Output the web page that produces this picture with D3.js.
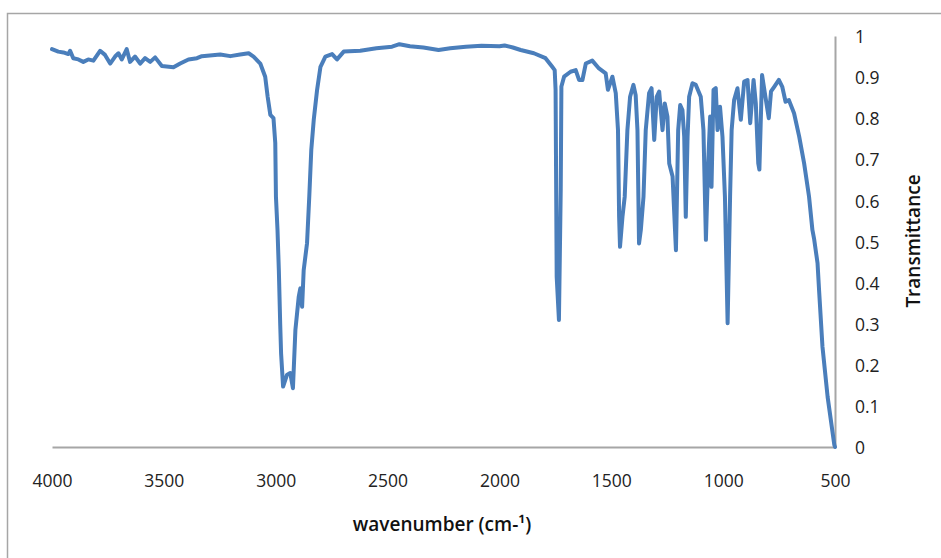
<!DOCTYPE html>
<html>
<head>
<meta charset="utf-8">
<script src="https://cdn.jsdelivr.net/npm/d3@7"></script>
<style>
  body { margin: 0; background: #fff; }
  svg { display: block; }
  .tick-label { font-family: "Open Sans", sans-serif; font-size: 17.5px; fill: #222; }
  .axis-title { font-family: "Open Sans", sans-serif; font-size: 19px; font-weight: 600; fill: #111; }
</style>
</head>
<body>
<div id="chart"></div>
<script>
// wavenumbers (cm-1) and transmittance
const wavenumbers = [
  4000, 3972, 3949, 3927, 3919, 3905, 3882, 3860, 3838, 3815, 3785, 3763, 3740, 3718, 3703,
  3688, 3666, 3651, 3629, 3606, 3584, 3561, 3539, 3509, 3457, 3427, 3390, 3352, 3330, 3248,
  3203, 3159, 3121, 3099, 3069, 3047, 3036, 3024, 3010, 3002, 2999, 2992, 2986, 2980, 2976,
  2967, 2950, 2935, 2923, 2912, 2897, 2890, 2882, 2875, 2860, 2850, 2841, 2830, 2815, 2800,
  2778, 2748, 2726, 2696, 2622, 2550, 2480, 2447, 2400, 2340, 2272, 2220, 2150, 2080, 2000,
  1977, 1940, 1905, 1846, 1794, 1764, 1753, 1749, 1744, 1734, 1726, 1723, 1711, 1682, 1659,
  1644, 1629, 1614, 1585, 1555, 1525, 1515, 1495, 1480, 1470, 1465, 1461, 1450, 1440, 1428,
  1416, 1401, 1391, 1383, 1376, 1368, 1356, 1346, 1331, 1320, 1308, 1297, 1286, 1271, 1261,
  1249, 1241, 1226, 1211, 1201, 1192, 1182, 1174, 1167, 1159, 1152, 1137, 1122, 1100, 1088,
  1077, 1067, 1058, 1052, 1043, 1033, 1025, 1014, 1003, 992, 980, 969, 962, 951, 936,
  921, 906, 891, 879, 864, 854, 843, 838, 826, 811, 796, 786, 771, 751, 736,
  721, 706, 683, 660, 638, 616, 601, 593, 578, 571, 556, 533, 503, 500
];
const transmittance = [
  0.968, 0.962, 0.960, 0.956, 0.964, 0.946, 0.943, 0.937, 0.943, 0.940, 0.964, 0.954, 0.933, 0.950, 0.958,
  0.943, 0.968, 0.937, 0.950, 0.933, 0.946, 0.937, 0.948, 0.927, 0.924, 0.933, 0.943, 0.946, 0.951, 0.955,
  0.951, 0.955, 0.958, 0.950, 0.933, 0.901, 0.852, 0.808, 0.800, 0.740, 0.609, 0.528, 0.430, 0.300, 0.228,
  0.147, 0.175, 0.180, 0.143, 0.285, 0.366, 0.386, 0.341, 0.430, 0.496, 0.609, 0.723, 0.796, 0.869, 0.925,
  0.950, 0.956, 0.943, 0.962, 0.964, 0.970, 0.974, 0.980, 0.975, 0.972, 0.966, 0.970, 0.974, 0.976, 0.975,
  0.977, 0.972, 0.966, 0.958, 0.946, 0.925, 0.917, 0.869, 0.414, 0.309, 0.625, 0.877, 0.901, 0.913, 0.917,
  0.893, 0.893, 0.933, 0.940, 0.921, 0.909, 0.869, 0.901, 0.861, 0.771, 0.560, 0.487, 0.560, 0.609, 0.771,
  0.852, 0.881, 0.856, 0.771, 0.495, 0.528, 0.609, 0.771, 0.861, 0.873, 0.747, 0.852, 0.865, 0.771, 0.836,
  0.804, 0.690, 0.658, 0.479, 0.771, 0.832, 0.820, 0.755, 0.560, 0.755, 0.852, 0.885, 0.881, 0.852, 0.771,
  0.504, 0.690, 0.804, 0.633, 0.869, 0.873, 0.771, 0.828, 0.755, 0.609, 0.301, 0.609, 0.771, 0.844, 0.873,
  0.796, 0.889, 0.893, 0.788, 0.893, 0.836, 0.690, 0.675, 0.905, 0.852, 0.800, 0.865, 0.877, 0.893, 0.877,
  0.840, 0.844, 0.812, 0.755, 0.690, 0.609, 0.528, 0.505, 0.447, 0.380, 0.244, 0.122, 0.005, 0.000
];
const xTicks = [4000, 3500, 3000, 2500, 2000, 1500, 1000, 500];
const yTicks = [0, 0.1, 0.2, 0.3, 0.4, 0.5, 0.6, 0.7, 0.8, 0.9, 1];

const width = 941, height = 558;
const plot = { left: 52, right: 835, top: 36, bottom: 447 };

const svg = d3.select("#chart").append("svg")
  .attr("width", width)
  .attr("height", height);

// chart frame
svg.append("rect")
  .attr("x", 7.5).attr("y", 13.5)
  .attr("width", 960).attr("height", 600)
  .attr("fill", "none")
  .attr("stroke", "#a6a6a6")
  .attr("stroke-width", 1.5);

const x = d3.scaleLinear().domain([4000, 500]).range([plot.left, plot.right]);
const y = d3.scaleLinear().domain([0, 1]).range([plot.bottom, plot.top]);

// x axis line and labels
const xAxis = svg.append("g")
  .attr("transform", "translate(0," + plot.bottom + ")")
  .call(d3.axisBottom(x).tickValues(xTicks).tickSize(0).tickPadding(28).tickFormat(d3.format("d")));
xAxis.select(".domain").attr("stroke", "#a6a6a6").attr("stroke-width", 2);
xAxis.selectAll("text").attr("class", "tick-label").attr("fill", null).attr("font-family", null).attr("font-size", null);

// y axis on the right
const yAxis = svg.append("g")
  .attr("transform", "translate(" + plot.right + ",0)")
  .call(d3.axisRight(y).tickValues(yTicks).tickSize(0).tickPadding(20).tickFormat(d => d3.format("")(+d.toFixed(1))));
yAxis.select(".domain").attr("stroke", "#a6a6a6").attr("stroke-width", 2);
yAxis.selectAll("text").attr("class", "tick-label").attr("fill", null).attr("font-family", null).attr("font-size", null)
  .attr("dy", "0.55em").attr("y", -3);

// spectrum
const points = wavenumbers.map((w, i) => [w, transmittance[i]]);
const line = d3.line()
  .x(d => x(d[0]))
  .y(d => y(d[1]));

svg.append("path")
  .datum(points)
  .attr("d", line)
  .attr("fill", "none")
  .attr("stroke", "#4a7ebb")
  .attr("stroke-width", 4)
  .attr("stroke-linejoin", "round")
  .attr("stroke-linecap", "round");

// titles
svg.append("text")
  .attr("class", "axis-title")
  .attr("x", 442).attr("y", 531)
  .attr("text-anchor", "middle")
  .text("wavenumber (cm-¹)");

svg.append("text")
  .attr("class", "axis-title")
  .attr("transform", "translate(920,241) rotate(-90)")
  .attr("text-anchor", "middle")
  .text("Transmittance");
</script>
</body>
</html>
